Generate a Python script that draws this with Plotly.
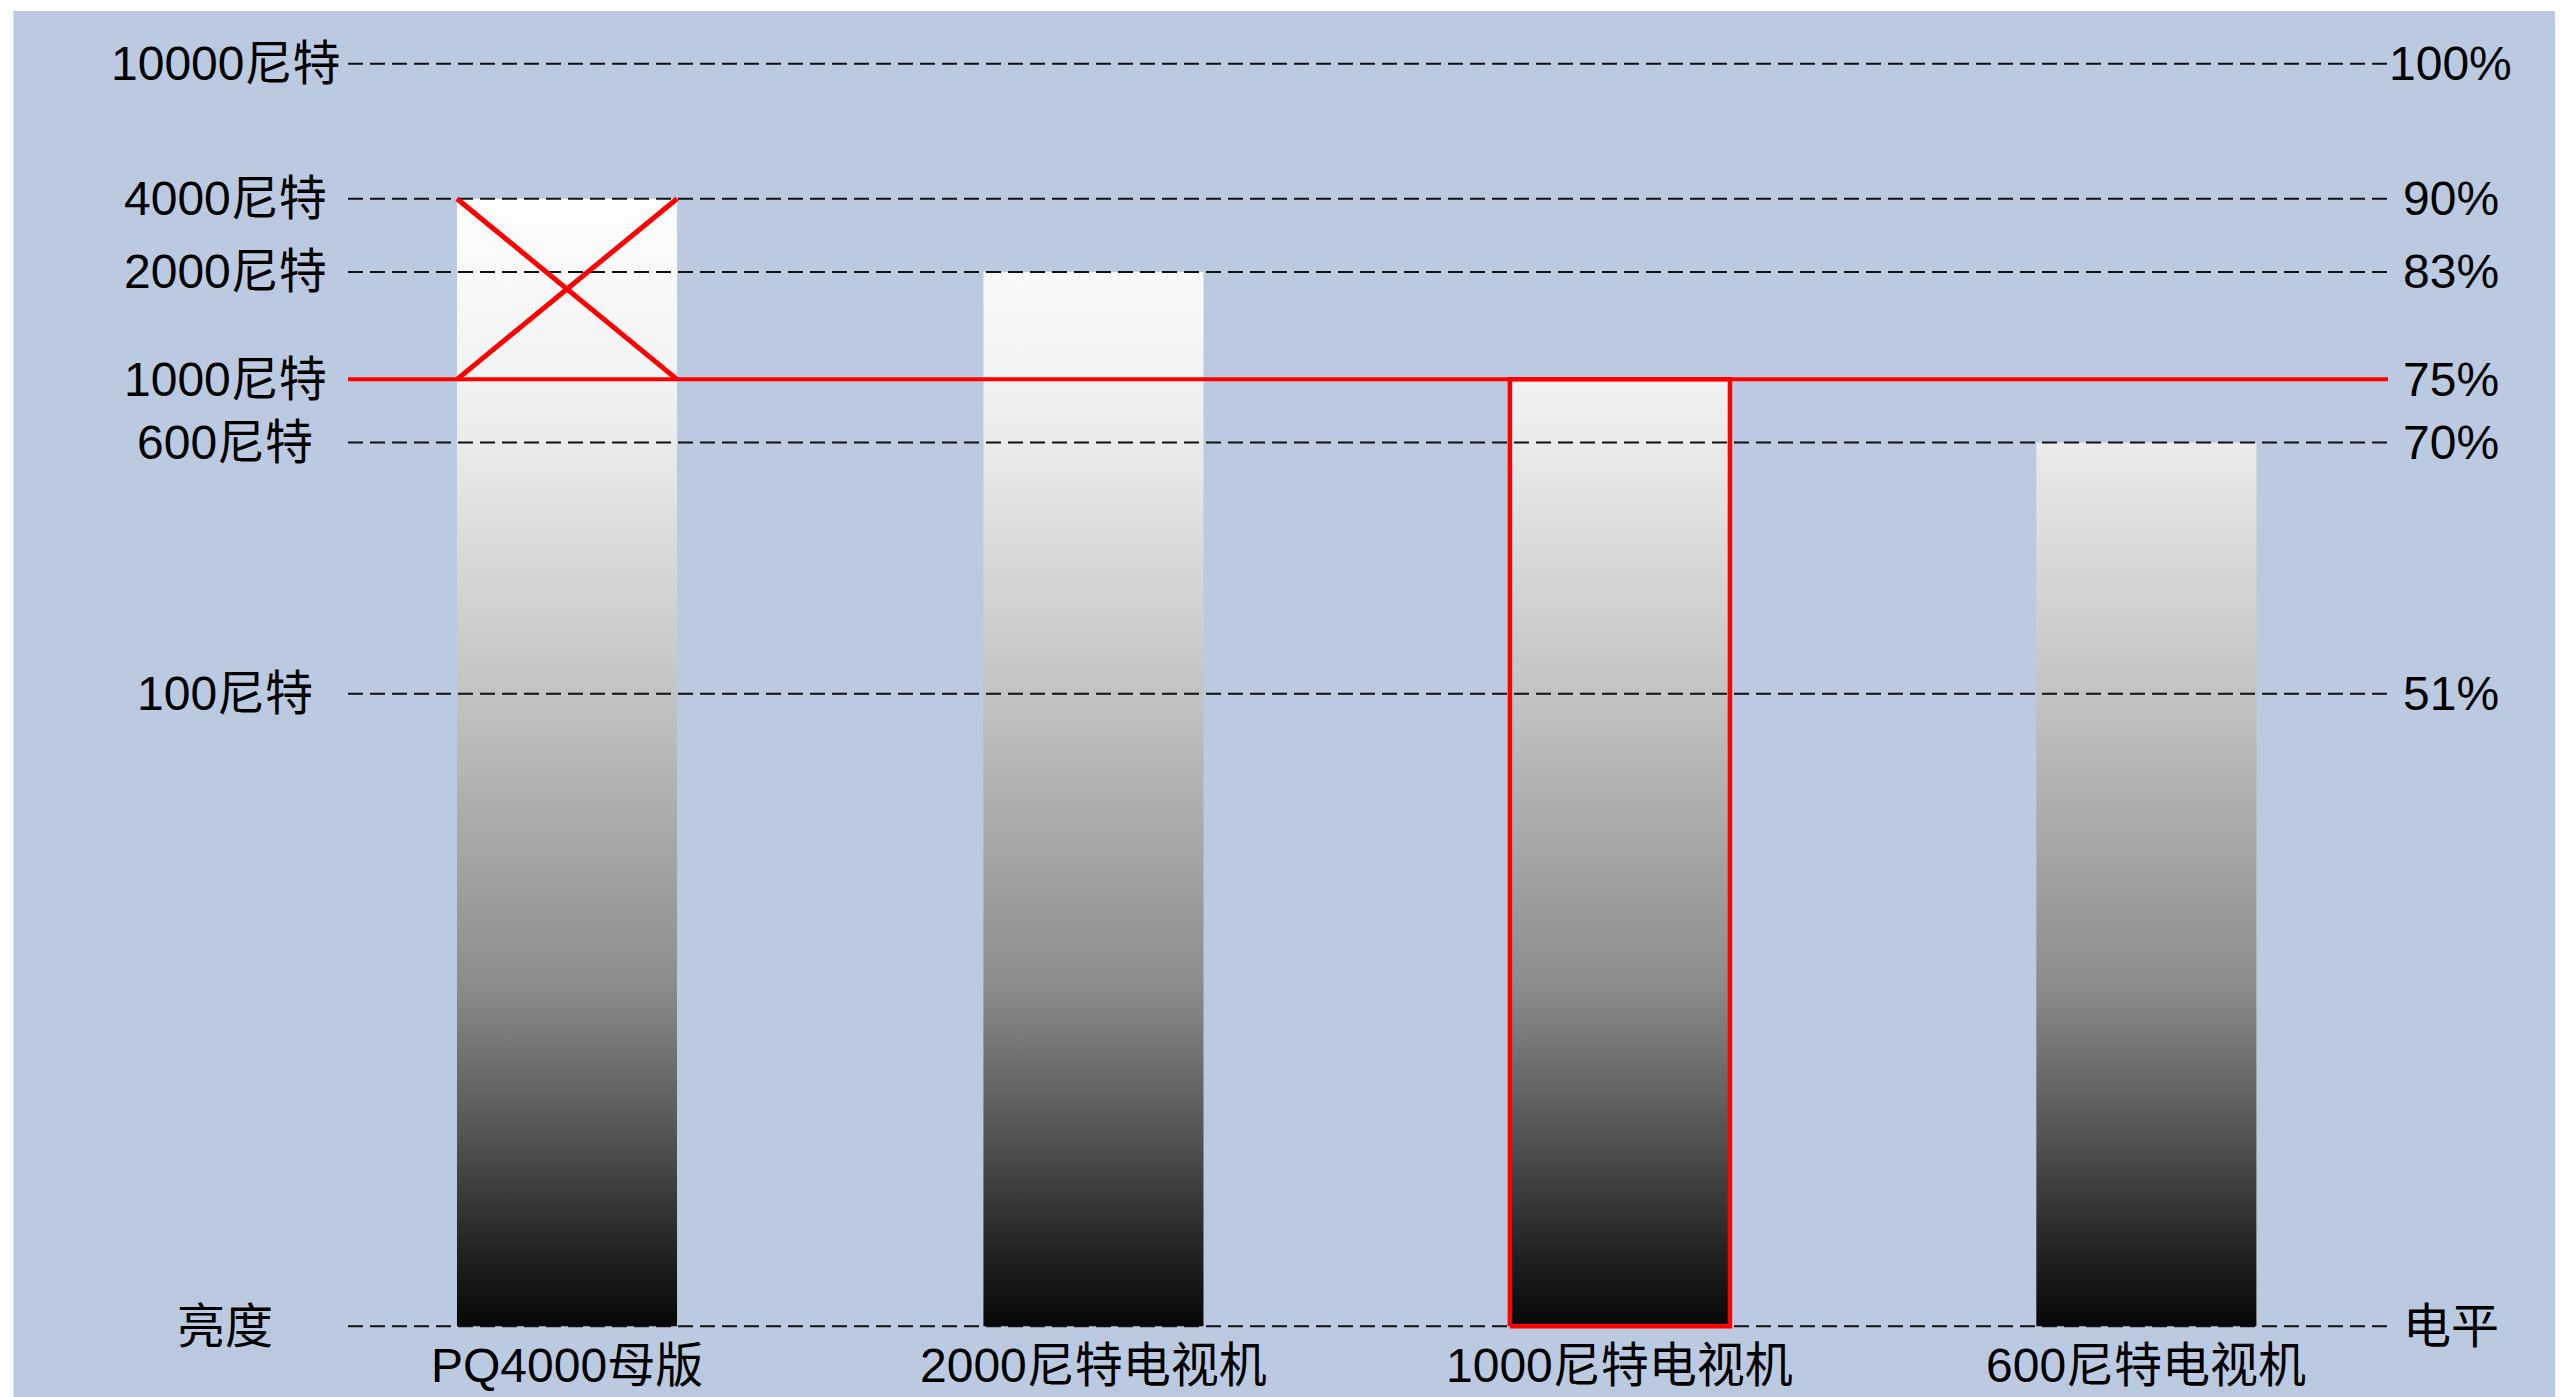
import plotly.graph_objects as go

# ---- data ----
categories = ["PQ4000母版", "2000尼特电视机", "1000尼特电视机", "600尼特电视机"]
bar_levels = [89.3, 83.5, 75.0, 70.0]          # signal level (%) at bar top
highlight = [False, False, True, False]          # red outlined bar
crossed = [True, False, False, False]            # red X above the limit

grid_levels = [100, 89.3, 83.5, 75.0, 70.0, 50.1, 0]
left_labels = ["10000尼特", "4000尼特", "2000尼特", "1000尼特", "600尼特", "100尼特", "亮度"]
right_labels = ["100%", "90%", "83%", "75%", "70%", "51%", "电平"]
limit_level = 75.0

# ---- styling ----
BG = "#BBCAE1"
FONT = "Arial, 'Liberation Sans', 'Noto Sans CJK SC', sans-serif"
FS = 48
X_MIN, X_MAX = -0.416, 3.459
Y_MIN, Y_MAX = -1, 101
BAR_W = 0.418
LEFT_X, RIGHT_X, CAT_Y = -0.6496, 3.578, -3.07


def xpaper(x):
    return (x - X_MIN) / (X_MAX - X_MIN)


def ypaper(y):
    return (y - Y_MIN) / (Y_MAX - Y_MIN)


gray_scale = [
    [0.00, "#060606"], [0.07, "#282828"], [0.14, "#4e4e4e"], [0.27, "#8c8c8c"],
    [0.50, "#c3c3c3"], [0.70, "#ebebeb"], [0.75, "#f3f3f3"], [0.835, "#f9f9f9"],
    [0.90, "#ffffff"], [1.00, "#ffffff"],
]

fig = go.Figure()

# gradient bars
for i, v in enumerate(bar_levels):
    x0, x1 = i - BAR_W / 2, i + BAR_W / 2
    fig.add_trace(go.Scatter(
        x=[x0, x1, x1, x0, x0], y=[0, 0, v, v, 0], mode="lines",
        fill="toself", line=dict(width=0),
        fillgradient=dict(type="vertical", colorscale=gray_scale, start=0, stop=100),
        hoverinfo="skip", showlegend=False,
    ))

# dashed reference lines (above bars)
for lv in grid_levels:
    fig.add_trace(go.Scatter(
        x=[X_MIN, X_MAX], y=[lv, lv], mode="lines",
        line=dict(color="#111111", width=2, dash="15px,7px"),
        hoverinfo="skip", showlegend=False,
    ))

# red limit line
fig.add_trace(go.Scatter(
    x=[X_MIN, X_MAX], y=[limit_level, limit_level], mode="lines",
    line=dict(color="#FF0000", width=4), hoverinfo="skip", showlegend=False,
))

# red outline of highlighted bar
for i, (v, h) in enumerate(zip(bar_levels, highlight)):
    if h:
        x0, x1 = i - BAR_W / 2, i + BAR_W / 2
        fig.add_trace(go.Scatter(
            x=[x0, x1, x1, x0, x0], y=[0, 0, v, v, 0], mode="lines",
            line=dict(color="#FF0000", width=4.5), hoverinfo="skip", showlegend=False,
        ))

# red X on crossed bar part above the limit
for i, (v, c) in enumerate(zip(bar_levels, crossed)):
    if c:
        x0, x1 = i - BAR_W / 2, i + BAR_W / 2
        fig.add_trace(go.Scatter(
            x=[x0, x1, None, x0, x1], y=[v, limit_level, None, limit_level, v],
            mode="lines", line=dict(color="#FF0000", width=5),
            hoverinfo="skip", showlegend=False,
        ))

font = dict(family=FONT, size=FS, color="#000000")
annotations = []
for lv, t in zip(grid_levels, left_labels):
    annotations.append(dict(x=xpaper(LEFT_X), y=ypaper(lv), xref="paper", yref="paper",
                            text=t, showarrow=False, xanchor="center", yanchor="middle", font=font))
for lv, t in zip(grid_levels, right_labels):
    annotations.append(dict(x=xpaper(RIGHT_X), y=ypaper(lv), xref="paper", yref="paper",
                            text=t, showarrow=False, xanchor="center", yanchor="middle", font=font))
for i, t in enumerate(categories):
    annotations.append(dict(x=xpaper(i), y=ypaper(CAT_Y), xref="paper", yref="paper",
                            text=t, showarrow=False, xanchor="center", yanchor="middle", font=font))

fig.update_layout(
    width=2555, height=1389, autosize=False,
    margin=dict(l=340, r=175, t=43, b=58, pad=0),
    paper_bgcolor="#FFFFFF", plot_bgcolor="rgba(0,0,0,0)",
    xaxis=dict(range=[X_MIN, X_MAX], visible=False, fixedrange=True),
    yaxis=dict(range=[Y_MIN, Y_MAX], visible=False, fixedrange=True),
    showlegend=False,
    annotations=annotations,
    shapes=[dict(type="rect", xref="paper", yref="paper", layer="below",
                 x0=-0.164, x1=1.1, y0=-0.06, y1=1.031,
                 fillcolor=BG, line=dict(width=0))],
)

fig.write_html("out.html")
